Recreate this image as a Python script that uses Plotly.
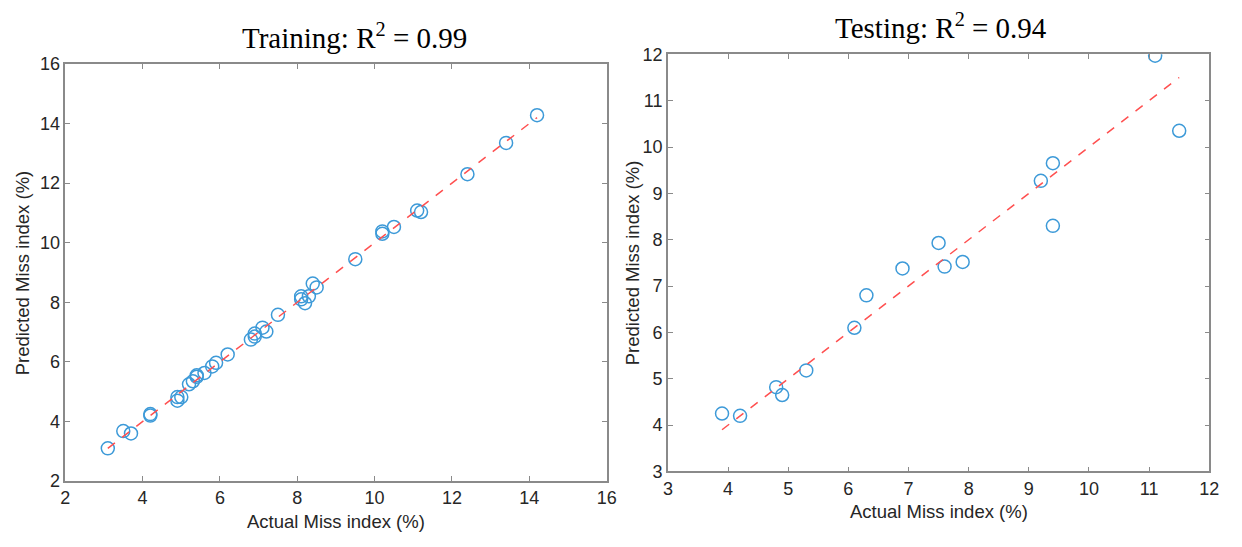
import plotly.graph_objects as go

# Training data
train_actual = [3.1, 3.5, 3.7, 4.2, 4.2, 4.9, 4.9, 5.0, 5.2, 5.3, 5.4, 5.4, 5.6, 5.8, 5.9, 6.2,
                6.8, 6.9, 6.9, 7.1, 7.2, 7.5, 8.1, 8.1, 8.2, 8.3, 8.4, 8.5, 9.5, 10.2, 10.2,
                10.5, 11.1, 11.2, 12.4, 13.4, 14.2]
train_pred = [3.1, 3.68, 3.6, 4.2, 4.25, 4.82, 4.7, 4.82, 5.25, 5.35, 5.5, 5.55, 5.63, 5.85, 5.97, 6.25,
              6.75, 6.85, 6.95, 7.15, 7.02, 7.58, 8.1, 8.2, 7.97, 8.2, 8.63, 8.5, 9.45, 10.3, 10.38,
              10.53, 11.08, 11.03, 12.3, 13.35, 14.28]

# Testing data
test_actual = [3.9, 4.2, 4.8, 4.9, 5.3, 6.1, 6.3, 6.9, 7.5, 7.6, 7.9, 9.2, 9.4, 9.4, 11.1, 11.5]
test_pred = [4.25, 4.2, 4.82, 4.65, 5.18, 6.1, 6.8, 7.38, 7.93, 7.42, 7.52, 9.27, 9.65, 8.3, 11.97, 10.35]

train_ticks = [2, 4, 6, 8, 10, 12, 14, 16]
test_ticks = [3, 4, 5, 6, 7, 8, 9, 10, 11, 12]

train_title = "Training: R<sup>2</sup> = 0.99"
test_title = "Testing: R<sup>2</sup> = 0.94"
x_label = "Actual Miss index (%)"
y_label = "Predicted Miss index (%)"

MARKER_COLOR = "#3d9ad8"
LINE_COLOR = "#ff5050"
AXIS_COLOR = "#8a8a8a"
TEXT_COLOR = "#262626"

fig = go.Figure()

def add_panel(xs, ys, axname_x, axname_y):
    fig.add_trace(go.Scatter(
        x=xs, y=ys, mode="markers", xaxis=axname_x, yaxis=axname_y,
        marker=dict(symbol="circle-open", size=13, color=MARKER_COLOR,
                    line=dict(width=1.5, color=MARKER_COLOR)),
        showlegend=False, hoverinfo="x+y"))
    lo, hi = min(xs), max(xs)
    fig.add_trace(go.Scatter(
        x=[lo, hi], y=[lo, hi], mode="lines", xaxis=axname_x, yaxis=axname_y,
        line=dict(color=LINE_COLOR, width=1.5, dash="dash"),
        showlegend=False, hoverinfo="skip"))

add_panel(train_actual, train_pred, "x", "y")
add_panel(test_actual, test_pred, "x2", "y2")

W, H = 1242, 547
L1, R1, T1, B1 = 61, 609, 56, 489
L2, R2, T2, B2 = 671, 1219, 46, 479

axis_common = dict(
    showline=True, linecolor=AXIS_COLOR, linewidth=1.5, mirror="ticks",
    ticks="inside", ticklen=5, tickwidth=1.2, tickcolor=AXIS_COLOR,
    showgrid=False, zeroline=False,
    tickfont=dict(family="Liberation Sans, Arial", size=18, color=TEXT_COLOR),
)

fig.update_layout(
    width=W, height=H,
    margin=dict(l=0, r=0, t=0, b=0),
    paper_bgcolor="white", plot_bgcolor="white",
    xaxis=dict(domain=[L1 / W, R1 / W], range=[2, 16], tickvals=train_ticks, anchor="y", **axis_common),
    yaxis=dict(domain=[1 - B1 / H, 1 - T1 / H], range=[2, 16], tickvals=train_ticks, anchor="x", **axis_common),
    xaxis2=dict(domain=[L2 / W, R2 / W], range=[3, 12], tickvals=test_ticks, anchor="y2", **axis_common),
    yaxis2=dict(domain=[1 - B2 / H, 1 - T2 / H], range=[3, 12], tickvals=test_ticks, anchor="x2", **axis_common),
)

serif = dict(family="Liberation Serif, Times New Roman", size=29, color="black")
sans = dict(family="Liberation Sans, Arial", size=18.5, color=TEXT_COLOR)

annotations = [
    dict(text=train_title, x=(243 + 465) / 2 / W, y=1 - 27 / H, xref="paper", yref="paper",
         showarrow=False, font=serif, xanchor="center", yanchor="middle"),
    dict(text=test_title, x=(845 + 1050) / 2 / W, y=1 - 17 / H, xref="paper", yref="paper",
         showarrow=False, font=serif, xanchor="center", yanchor="middle"),
    dict(text=x_label, x=(L1 + R1) / 2 / W, y=1 - 531 / H, xref="paper", yref="paper",
         showarrow=False, font=sans, xanchor="center", yanchor="middle"),
    dict(text=x_label, x=(L2 + R2) / 2 / W, y=1 - 521 / H, xref="paper", yref="paper",
         showarrow=False, font=sans, xanchor="center", yanchor="middle"),
    dict(text=y_label, x=18 / W, y=1 - (T1 + B1) / 2 / H, xref="paper", yref="paper",
         showarrow=False, font=sans, textangle=-90, xanchor="center", yanchor="middle"),
    dict(text=y_label, x=636 / W, y=1 - (T2 + B2) / 2 / H, xref="paper", yref="paper",
         showarrow=False, font=sans, textangle=-90, xanchor="center", yanchor="middle"),
]
fig.update_layout(annotations=annotations)

fig.write_html("out.html")
